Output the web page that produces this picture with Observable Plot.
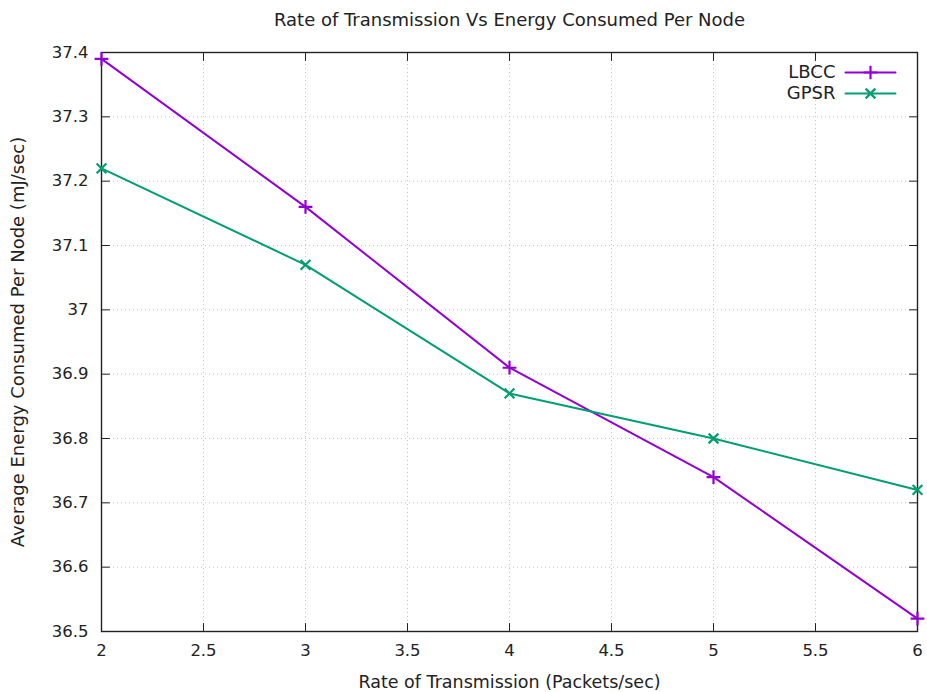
<!DOCTYPE html>
<html>
<head>
<meta charset="utf-8">
<script src="https://cdn.jsdelivr.net/npm/d3@7"></script>
<script src="https://cdn.jsdelivr.net/npm/@observablehq/plot@0.6"></script>
<style>
  html, body { margin: 0; padding: 0; background: #fff; }
  #chart svg { display: block; }
</style>
</head>
<body>
<div id="chart"></div>
<script>
const rates = [2, 3, 4, 5, 6];
const lbcc = [37.39, 37.16, 36.91, 36.74, 36.52];
const gpsr = [37.22, 37.07, 36.87, 36.80, 36.72];
const seriesNames = ["LBCC", "GPSR"];
const xTicks = [2, 2.5, 3, 3.5, 4, 4.5, 5, 5.5, 6];
const yTicks = [36.5, 36.6, 36.7, 36.8, 36.9, 37, 37.1, 37.2, 37.3, 37.4];
const titleText = "Rate of Transmission Vs Energy Consumed Per Node";
const xLabel = "Rate of Transmission (Packets/sec)";
const yLabel = "Average Energy Consumed Per Node (mJ/sec)";

const colors = {LBCC: "#9400d3", GPSR: "#009e73"};
const symbols = {LBCC: "plus", GPSR: "times"};

const data = [];
rates.forEach((r, i) => {
  data.push({series: "LBCC", x: r, y: lbcc[i]});
  data.push({series: "GPSR", x: r, y: gpsr[i]});
});

const W = 927, H = 692;
const font = "DejaVu Sans, sans-serif";
const tickLen = 8;
const tickShape = {draw(ctx, l) { ctx.moveTo(0, 0); ctx.lineTo(0, -l); }};

const marks = [
  // grid
  Plot.ruleX(xTicks.slice(1, -1), {stroke: "#c4c4c4", strokeDasharray: "1,3", strokeWidth: 1}),
  Plot.ruleY(yTicks.slice(1, -1), {stroke: "#c4c4c4", strokeDasharray: "1,3", strokeWidth: 1}),
  // inward ticks (bottom, top, left, right)
  Plot.vector(xTicks, {x: d => d, frameAnchor: "bottom", length: tickLen, rotate: 0, anchor: "start", shape: tickShape, stroke: "#222", strokeWidth: 1}),
  Plot.vector(xTicks, {x: d => d, frameAnchor: "top", length: tickLen, rotate: 180, anchor: "start", shape: tickShape, stroke: "#222", strokeWidth: 1}),
  Plot.vector(yTicks, {y: d => d, frameAnchor: "left", length: tickLen, rotate: 90, anchor: "start", shape: tickShape, stroke: "#222", strokeWidth: 1}),
  Plot.vector(yTicks, {y: d => d, frameAnchor: "right", length: tickLen, rotate: -90, anchor: "start", shape: tickShape, stroke: "#222", strokeWidth: 1}),
  // tick labels
  Plot.axisX(xTicks, {tickSize: 0, tickPadding: 13, fontSize: 16.5, tickFormat: d => String(d), label: null, fill: "#222"}),
  Plot.axisY(yTicks, {tickSize: 0, tickPadding: 13, fontSize: 16.5, tickFormat: d => String(d), label: null, fill: "#222"}),
  // frame
  Plot.frame({stroke: "#222", strokeWidth: 1.4}),
  // lines
  Plot.line(data, {x: "x", y: "y", z: "series", stroke: d => colors[d.series], strokeWidth: 2}),
  Plot.dot(data, {x: "x", y: "y", symbol: d => symbols[d.series], stroke: d => colors[d.series], r: 4.5, strokeWidth: 2.2}),
  // title and axis titles
  Plot.text([titleText], {text: d => d, frameAnchor: "top", dy: -32, lineAnchor: "middle", textAnchor: "middle", fontSize: 18, fill: "#222"}),
  Plot.text([xLabel], {text: d => d, frameAnchor: "bottom", dy: 51, lineAnchor: "middle", textAnchor: "middle", fontSize: 17.5, fill: "#222"}),
  Plot.text([yLabel], {text: d => d, frameAnchor: "left", dx: -83, rotate: -90, lineAnchor: "middle", textAnchor: "middle", fontSize: 18, fill: "#222"}),
];

// legend
seriesNames.forEach((name, i) => {
  const dy = 20 + i * 21;
  marks.push(
    Plot.text([name], {text: d => d, frameAnchor: "top-right", dx: -82, dy, textAnchor: "end", lineAnchor: "middle", fontSize: 18, fill: "#222"}),
    Plot.vector([name], {frameAnchor: "top-right", dx: -22, dy, length: 50, rotate: -90, anchor: "start", shape: tickShape, stroke: colors[name], strokeWidth: 2}),
    Plot.dot([name], {frameAnchor: "top-right", dx: -47, dy, symbol: symbols[name], stroke: colors[name], r: 4.5, strokeWidth: 2.2})
  );
});

const chart = Plot.plot({
  width: W,
  height: H,
  marginLeft: 101,
  marginRight: 10,
  marginTop: 52,
  marginBottom: 61,
  style: {fontFamily: font, fontSize: "16px", background: "#fff", overflow: "visible"},
  x: {domain: [2, 6], type: "linear"},
  y: {domain: [36.5, 37.4], type: "linear"},
  symbol: {type: "identity"},
  marks
});
document.getElementById("chart").appendChild(chart);
</script>
</body>
</html>
